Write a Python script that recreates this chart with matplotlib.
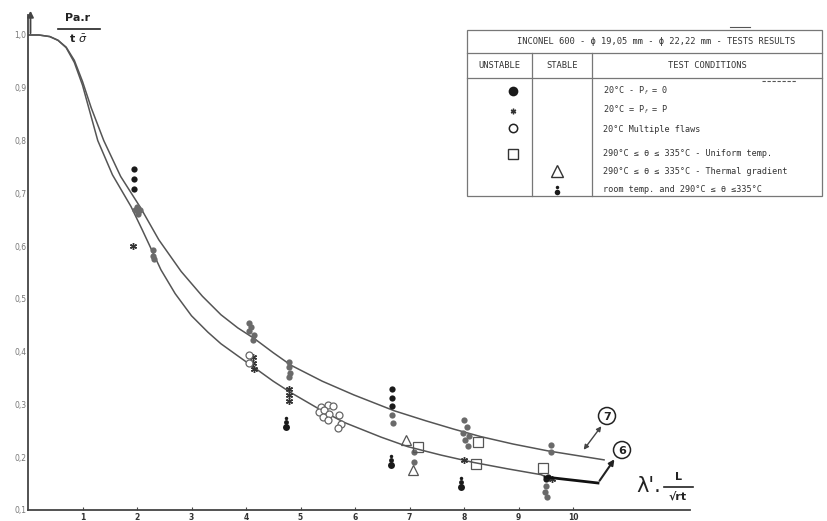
import numpy as np
import matplotlib.pyplot as plt
from matplotlib.patches import Circle, Rectangle

# theoretical curves
curve7_x = [0, 0.2, 0.4, 0.55, 0.7, 0.85, 1.0, 1.16, 1.39, 1.7, 2.07, 2.4, 2.81, 3.2, 3.54, 3.85, 4.15, 4.5, 4.83,
            5.4, 5.98, 6.72, 7.3, 7.82, 8.31, 8.9, 9.54, 10.57]
curve7_y = [1.0, 1.0, 0.997, 0.99, 0.977, 0.952, 0.912, 0.862, 0.80, 0.732, 0.672, 0.612, 0.552, 0.505, 0.47, 0.445,
            0.425, 0.398, 0.374, 0.344, 0.318, 0.288, 0.269, 0.253, 0.239, 0.225, 0.212, 0.195]
curve6_x = [0, 0.2, 0.4, 0.55, 0.7, 0.85, 1.0, 1.12, 1.28, 1.55, 1.89, 2.1, 2.44, 2.7, 3.0, 3.3, 3.54, 3.85, 4.15,
            4.5, 4.83, 5.38, 5.80, 6.48, 6.97, 7.58, 8.18, 8.8, 9.41, 9.50]
curve6_y = [1.0, 1.0, 0.997, 0.99, 0.976, 0.948, 0.905, 0.86, 0.80, 0.735, 0.675, 0.63, 0.555, 0.51, 0.468, 0.437,
            0.415, 0.392, 0.37, 0.344, 0.322, 0.289, 0.266, 0.238, 0.22, 0.204, 0.19, 0.178, 0.167, 0.163]

# unstable, 20C Pf=0 (black dots)
dot_x = [1.94, 1.94, 1.94, 6.68, 6.68, 6.68, 9.5, 9.55]
dot_y = [0.747, 0.728, 0.709, 0.330, 0.312, 0.297, 0.158, 0.162]
# stacked dots ("pawn" marks)
pawn_x = [4.73, 6.66, 7.94]
pawn_y = [0.257, 0.185, 0.143]
# grey blobs (overprinted specimens)
grey_x = [2.0, 2.05, 1.97, 2.02, 2.29, 2.29, 2.31, 4.05, 4.1, 4.05, 4.15, 4.12, 4.79, 4.79, 4.81, 4.79,
          6.68, 6.70, 7.08, 7.08, 8.0, 8.05, 7.98, 8.1, 8.02, 8.08, 9.6, 9.6, 9.5, 9.48, 9.52]
grey_y = [0.675, 0.668, 0.668, 0.66, 0.592, 0.582, 0.575, 0.455, 0.447, 0.44, 0.432, 0.422, 0.38, 0.37, 0.36, 0.352,
          0.28, 0.265, 0.21, 0.19, 0.27, 0.258, 0.245, 0.24, 0.232, 0.222, 0.223, 0.21, 0.145, 0.135, 0.125]
# 20C Pf=P (asterisks)
star_x = [1.93, 4.12, 4.12, 4.15, 4.79, 4.79, 4.79, 8.0, 9.62]
star_y = [0.60, 0.39, 0.378, 0.367, 0.33, 0.318, 0.306, 0.194, 0.158]
# 20C multiple flaws (open circles)
ring_x = [4.05, 4.05, 5.38, 5.50, 5.60, 5.34, 5.43, 5.52, 5.41, 5.50, 5.71, 5.74, 5.69]
ring_y = [0.393, 0.378, 0.295, 0.299, 0.297, 0.286, 0.290, 0.282, 0.276, 0.270, 0.280, 0.263, 0.255]
# uniform temp (squares)
sq_x = [7.16, 8.26, 8.22, 9.45]
sq_y = [0.219, 0.229, 0.187, 0.18]
# stable, thermal gradient (triangles)
tri_x = [6.94, 7.06]
tri_y = [0.232, 0.175]

yticks = [1.0, 0.9, 0.8, 0.7, 0.6, 0.5, 0.4, 0.3, 0.2, 0.1]
ytick_labels = ['1,0', '0,9', '0,8', '0,7', '0,6', '0,5', '0,4', '0,3', '0,2', '0,1']
xticks = [1, 2, 3, 4, 5, 6, 7, 8, 9, 10]

rows = ['20°C - P$_f$ = 0', '20°C = P$_f$ = P', '20°C Multiple flaws',
        '290°C ≤ θ ≤ 335°C - Uniform temp.', '290°C ≤ θ ≤ 335°C - Thermal gradient',
        'room temp. and 290°C ≤ θ ≤335°C']

W, H = 827, 521
fig = plt.figure(figsize=(W / 100, H / 100), dpi=100)
L, R, B, T = 28, 690, 510, 15
ax = fig.add_axes([L / W, 1 - B / H, (R - L) / W, (B - T) / H])
ax.set_xlim(0, (R - L) / 54.5)
ax.set_ylim(0.1, 1.0 + 20 / 527.8)
for s in ['top', 'right']:
    ax.spines[s].set_visible(False)
for s in ['left', 'bottom']:
    ax.spines[s].set_color('#444')
    ax.spines[s].set_linewidth(1.3)
ax.set_yticks(yticks)
ax.set_yticklabels(ytick_labels, fontsize=5.5, color='#777')
ax.set_xticks(xticks)
ax.set_xticklabels([str(v) for v in xticks], fontsize=5.5, fontweight='bold', color='#333')
ax.tick_params(axis='y', length=0, pad=1)
ax.tick_params(axis='x', length=2, direction='in', pad=2, color='#444')

ax.plot(curve7_x, curve7_y, color='#555', lw=1.1)
ax.plot(curve6_x, curve6_y, color='#555', lw=1.1)

ax.plot(grey_x, grey_y, 'o', color='#6a6a6a', ms=4.5, mew=0)
ax.plot(dot_x, dot_y, 'o', color='#1a1a1a', ms=4.5, mew=0)
for px, py in zip(pawn_x, pawn_y):
    ax.plot([px], [py], 'o', color='#1a1a1a', ms=5, mew=0)
    ax.plot([px], [py + 0.01], 'o', color='#1a1a1a', ms=3.5, mew=0)
    ax.plot([px], [py + 0.018], 'o', color='#1a1a1a', ms=2.5, mew=0)
ax.plot(star_x, star_y, marker=(6, 2, 0), ls='none', color='#333', ms=5, mew=1)
ax.plot(ring_x, ring_y, 'o', mfc='white', mec='#666', ms=5, mew=0.9)
ax.plot(sq_x, sq_y, 's', mfc='none', mec='#555', ms=7, mew=0.9)
ax.plot(tri_x, tri_y, '^', mfc='none', mec='#555', ms=7, mew=0.9)

# overlay in pixel coordinates for the annotations and the table
ov = fig.add_axes([0, 0, 1, 1], facecolor='none')
ov.set_xlim(0, W)
ov.set_ylim(H, 0)
ov.axis('off')

ov.annotate('', xy=(30.5, 8), xytext=(30.5, 36),
            arrowprops=dict(arrowstyle='-|>', color='#444', lw=1.3, mutation_scale=9))
ov.text(78, 18, 'Pa.r', fontsize=8, fontweight='bold', ha='center', va='center', color='#222')
ov.plot([58, 100], [29, 29], color='#222', lw=1.2)
ov.text(78, 39, r't $\bar{\sigma}$', fontsize=8, fontweight='bold', ha='center', va='center', color='#222')

ov.text(649, 486, "λ'.", fontsize=15, ha='center', va='center', color='#222')
ov.text(678, 477, 'L', fontsize=8, fontweight='bold', ha='center', va='center', color='#222')
ov.plot([664, 693], [487, 487], color='#222', lw=1.2)
ov.text(678, 497, '√rt', fontsize=8, fontweight='bold', ha='center', va='center', color='#222')

# curve labels
for cx, cy, lab in [(607, 416, '7'), (622, 450, '6')]:
    ov.add_patch(Circle((cx, cy), 8.5, fill=False, ec='#222', lw=1.1))
    ov.text(cx, cy + 0.5, lab, fontsize=8, fontweight='bold', ha='center', va='center', color='#222')
ov.annotate('', xy=(582, 452), xytext=(603, 424),
            arrowprops=dict(arrowstyle='<|-|>', color='#444', lw=1, mutation_scale=7))
ov.plot([545, 598], [477, 483], color='#111', lw=2)
ov.annotate('', xy=(616, 457), xytext=(598, 483),
            arrowprops=dict(arrowstyle='-|>', color='#222', lw=1.5, mutation_scale=8))

# result table
tc = '#777'
ov.add_patch(Rectangle((467, 30), 355, 166, fill=False, ec=tc, lw=0.9))
ov.plot([467, 822], [53, 53], color=tc, lw=0.9)
ov.plot([467, 822], [78, 78], color=tc, lw=0.9)
ov.plot([532, 532], [53, 196], color=tc, lw=0.9)
ov.plot([592, 592], [53, 196], color=tc, lw=0.9)
ov.plot([730, 750], [27, 27], color='#555', lw=0.8)
ov.plot([762, 797], [80.5, 80.5], color='#555', lw=0.8, ls=(0, (3, 1.5)))
mono = 'DejaVu Sans Mono'
ov.text(656, 42, 'INCONEL 600 - ϕ 19,05 mm - ϕ 22,22 mm - TESTS RESULTS', family=mono,
        fontsize=6.3, ha='center', va='center', color='#333')
ov.text(499, 66, 'UNSTABLE', family=mono, fontsize=6.3, ha='center', va='center', color='#333')
ov.text(562, 66, 'STABLE', family=mono, fontsize=6.3, ha='center', va='center', color='#333')
ov.text(707, 66, 'TEST CONDITIONS', family=mono, fontsize=6.3, ha='center', va='center', color='#333')
for yy, txt in zip([91, 110, 130, 154, 172, 189], rows):
    ov.text(603, yy, txt, family=mono, fontsize=6.1, ha='left', va='center', color='#333')
ov.plot([513], [91], 'o', color='#1a1a1a', ms=7, mew=0)
ov.plot([513], [111], marker=(6, 2, 0), color='#333', ms=4, mew=1)
ov.plot([513], [128], 'o', mfc='white', mec='#222', ms=6, mew=1.1)
ov.plot([513], [154], 's', mfc='none', mec='#333', ms=7.5, mew=1)
ov.plot([557], [171], '^', mfc='none', mec='#333', ms=9, mew=1)
ov.plot([557], [192], 'o', color='#1a1a1a', ms=4, mew=0)
ov.plot([557], [187], 'o', color='#1a1a1a', ms=2.5, mew=0)

fig.savefig('out.png', dpi=100)
